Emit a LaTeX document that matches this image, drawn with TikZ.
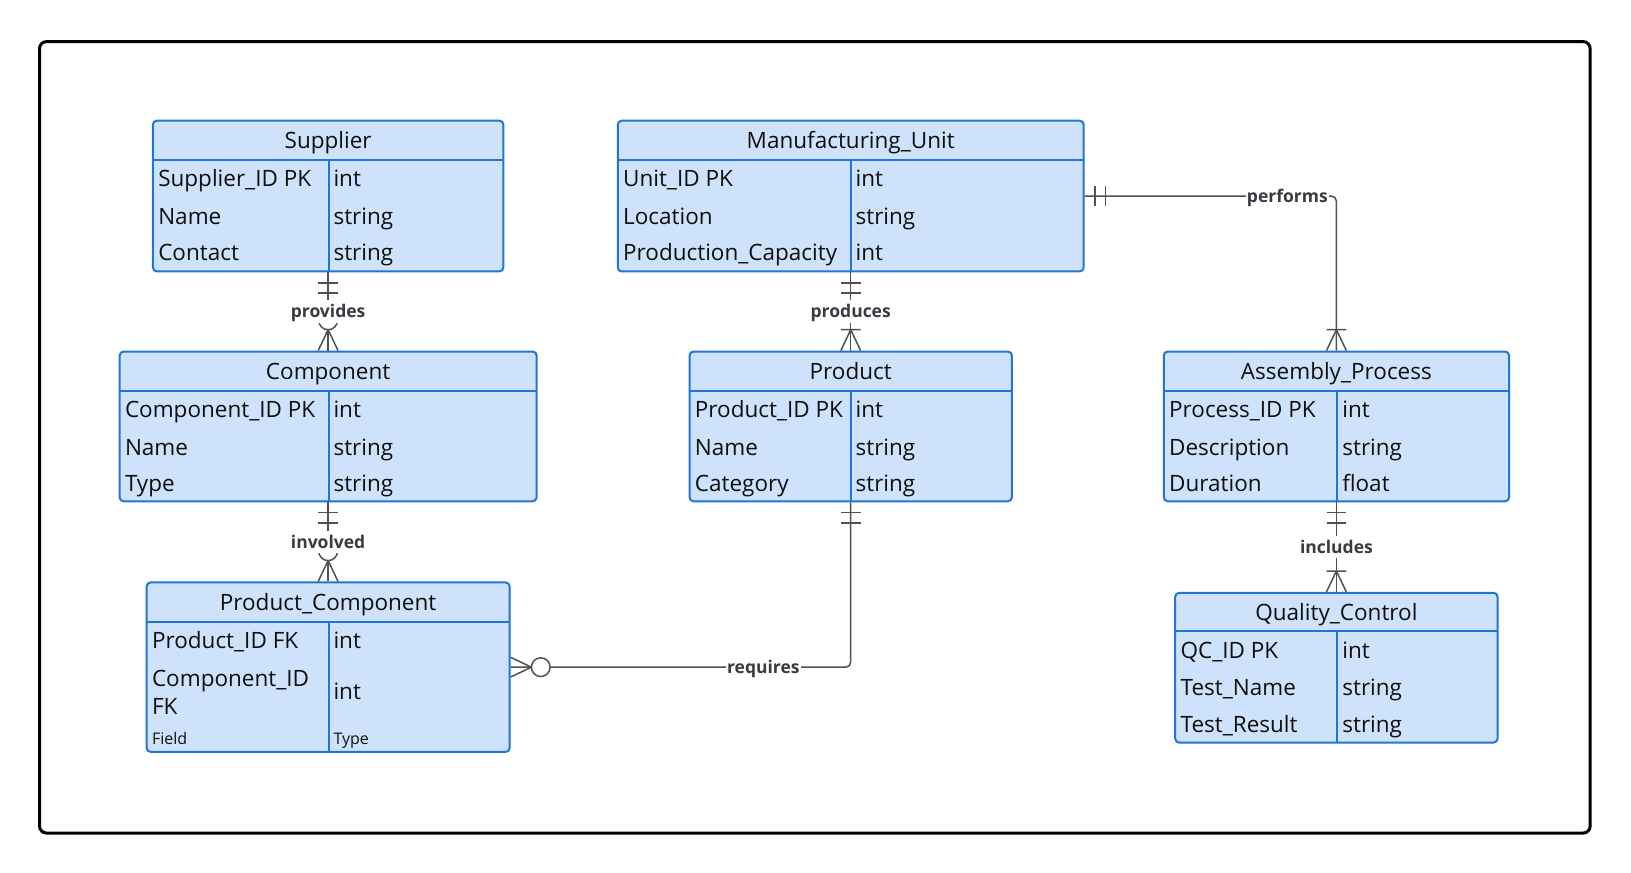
\documentclass[tikz,border=0pt]{standalone}
\usepackage{fontspec}
\setmainfont{Open Sans}
\usetikzlibrary{fit,calc}
\definecolor{entfill}{RGB}{207,226,251}
\definecolor{entdraw}{RGB}{34,116,214}
\definecolor{connc}{RGB}{80,80,86}
\definecolor{lblc}{RGB}{58,58,66}
\definecolor{txtc}{RGB}{15,15,15}
\tikzset{
  entbox/.style={draw=entdraw, line width=2pt, fill=entfill, rounded corners=4pt, inner sep=0pt},
  entline/.style={draw=entdraw, line width=2pt},
  titletext/.style={font=\fontsize{22.5}{27}\selectfont, text=txtc, inner sep=0pt, text height=16pt, text depth=0pt},
  fieldtext/.style={font=\fontsize{22.5}{27}\selectfont, text=txtc, inner sep=0pt, anchor=west, text height=16pt, text depth=0pt},
  smalltext/.style={font=\fontsize{16}{19}\selectfont, text=txtc, inner sep=0pt, anchor=west, text height=11.4pt, text depth=0pt},
  conn/.style={draw=connc, line width=1.5pt},
  lbl/.style={font=\bfseries\fontsize{17.5}{20}\selectfont, text=lblc, fill=white, inner xsep=1pt, inner ysep=5pt, text height=12.5pt, text depth=0pt},
  frame/.style={draw=black, line width=3pt, rounded corners=7pt},
  onlyone/.pic={\draw[conn] (10,-9.5)--(10,9.5) (20,-9.5)--(20,9.5);},
  onemany/.pic={\draw[conn] (0,-9.5)--(20,0)--(0,9.5) (20,-9.5)--(20,9.5);},
  zeromany/.pic={\draw[conn] (0,-9.5)--(20,0)--(0,9.5); \draw[conn,fill=white] (29,0) circle[radius=9];},
}
% #1 id, #2 x1, #3 y1, #4 x2, #5 y2, #6 header y, #7 divider x, #8 title
\newcommand\entity[8]{%
  \node[entbox, fit={(#2,#3) (#4,#5)}] (#1) {};
  \draw[entline] (#2,#6) -- (#4,#6);
  \draw[entline] (#7,#6) -- (#7,#5);
  \node[titletext] (#1-title) at ({(#2+#4)/2},{(#3+#6)/2}) {#8};
  \coordinate (#1-fx) at ({#2+5},0);
  \coordinate (#1-tx) at ({#7+4.5},0);
}
% #1 id, #2 row no, #3 y, #4 field, #5 type
\newcommand\erow[5]{%
  \node[fieldtext] (#1-f#2) at (#1-fx |- 0,#3) {#4};
  \node[fieldtext] (#1-t#2) at (#1-tx |- 0,#3) {#5};
}
\begin{document}
\begin{tikzpicture}[x=1.04pt, y=-1.04pt]
\path[fill=white] (0,0) rectangle (1568.27,839.42);
\useasboundingbox (0,0) rectangle (1568.27,839.42);
\draw[frame] (38,40) rectangle (1529,801);

\entity{sup}{147}{116}{484}{261}{154}{316}{Supplier}
\erow{sup}{1}{172}{Supplier\_ID PK}{int}
\erow{sup}{2}{208}{Name}{string}
\erow{sup}{3}{243}{Contact}{string}

\entity{comp}{115}{338}{516}{482}{376}{316}{Component}
\erow{comp}{1}{394}{Component\_ID PK}{int}
\erow{comp}{2}{430}{Name}{string}
\erow{comp}{3}{465}{Type}{string}

\entity{pc}{141}{560}{490}{723}{598}{316}{Product\_Component}
\erow{pc}{1}{616}{Product\_ID FK}{int}
\node[fieldtext] (pc-f2) at (pc-fx |- 0,652) {Component\_ID};
\node[fieldtext] (pc-f2b) at (pc-fx |- 0,679) {FK};
\node[fieldtext] (pc-t2) at (pc-tx |- 0,665) {int};
\node[smalltext] (pc-f3) at (pc-fx |- 0,710) {Field};
\node[smalltext] (pc-t3) at (pc-tx |- 0,710) {Type};

\entity{mfg}{594}{116}{1042}{261}{154}{818}{Manufacturing\_Unit}
\erow{mfg}{1}{172}{Unit\_ID PK}{int}
\erow{mfg}{2}{208}{Location}{string}
\erow{mfg}{3}{243}{Production\_Capacity}{int}

\entity{prod}{663}{338}{973}{482}{376}{818}{Product}
\erow{prod}{1}{394}{Product\_ID PK}{int}
\erow{prod}{2}{430}{Name}{string}
\erow{prod}{3}{465}{Category}{string}

\entity{asm}{1119}{338}{1451}{482}{376}{1286}{Assembly\_Process}
\erow{asm}{1}{394}{Process\_ID PK}{int}
\erow{asm}{2}{430}{Description}{string}
\erow{asm}{3}{465}{Duration}{float}

\entity{qc}{1130}{570}{1440}{714}{607}{1286}{Quality\_Control}
\erow{qc}{1}{625}{QC\_ID PK}{int}
\erow{qc}{2}{661}{Test\_Name}{string}
\erow{qc}{3}{697}{Test\_Result}{string}

% connectors
\draw[conn] (sup.south) -- (comp.north);
\draw[conn] (comp.south) -- (pc.north);
\draw[conn] (mfg.south) -- (prod.north);
\draw[conn, rounded corners=5pt] (mfg.east) -| (asm.north);
\draw[conn] (asm.south) -- (qc.north);
\draw[conn, rounded corners=5pt] (prod.south) |- (pc.east);

% cardinality markers
\pic[rotate=-90] at (sup.south) {onlyone};
\pic[rotate=90] at (comp.north) {zeromany};
\pic[rotate=-90] at (comp.south) {onlyone};
\pic[rotate=90] at (pc.north) {zeromany};
\pic[rotate=-90] at (mfg.south) {onlyone};
\pic[rotate=90] at (prod.north) {onemany};
\pic at (mfg.east) {onlyone};
\pic[rotate=90] at (asm.north) {onemany};
\pic[rotate=-90] at (asm.south) {onlyone};
\pic[rotate=90] at (qc.north) {onemany};
\pic[rotate=-90] at (prod.south) {onlyone};
\pic at (pc.east) {zeromany};

% labels
\node[lbl] (l-prov) at ($(sup.south)!0.5!(comp.north)$) {provides};
\node[lbl] (l-inv) at ($(comp.south)!0.5!(pc.north)$) {involved};
\node[lbl] (l-prod) at ($(mfg.south)!0.5!(prod.north)$) {produces};
\node[lbl] (l-perf) at ($(mfg.east)!0.805!(mfg.east -| asm.north)$) {performs};
\node[lbl] (l-inc) at ($(asm.south)!0.5!(qc.north)$) {includes};
\node[lbl] (l-req) at ($(prod.south |- pc.east)!0.257!(pc.east)$) {requires};
\end{tikzpicture}
\end{document}
